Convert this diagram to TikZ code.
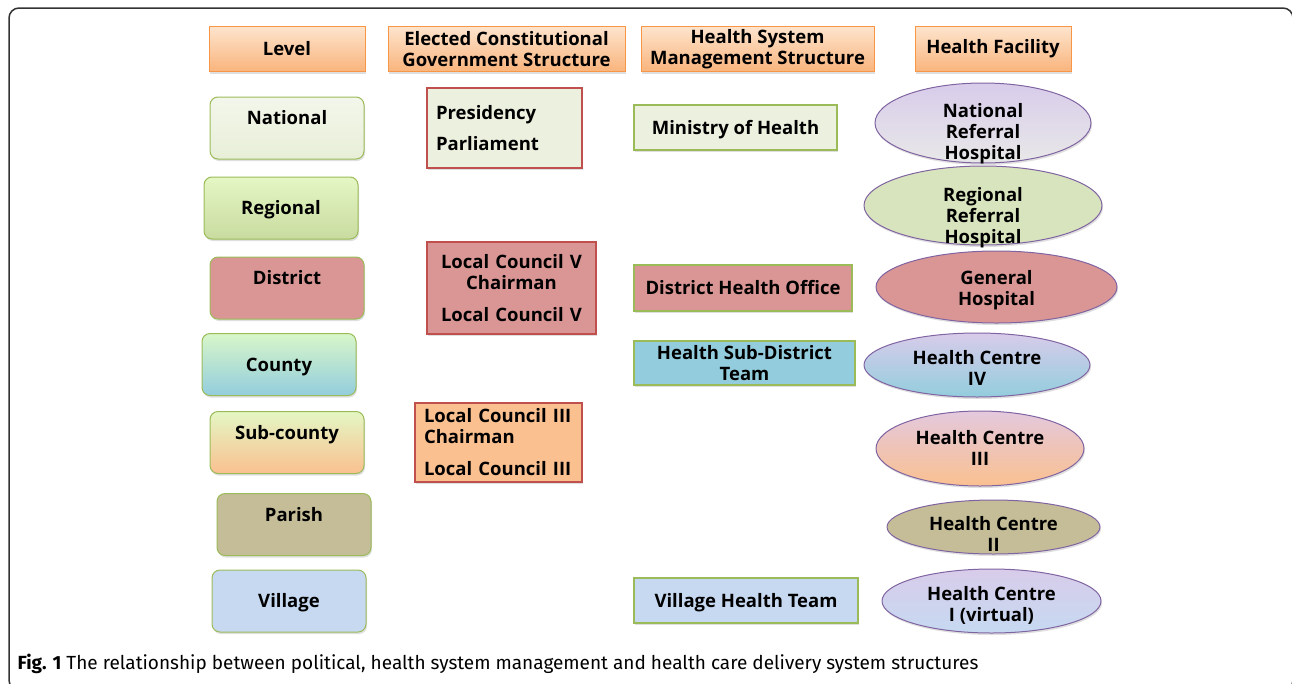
\documentclass[tikz,border=0pt]{standalone}
\usepackage{fontspec}
\setmainfont{Open Sans}
\newfontfamily\capfont{Fira Sans}
\usetikzlibrary{shapes.geometric,shadows}

\definecolor{headline}{HTML}{F79646}
\definecolor{headtop}{HTML}{FDE4CD}
\definecolor{headbot}{HTML}{F9B47C}
\definecolor{lvlline}{HTML}{9BBB59}
\definecolor{govline}{HTML}{C0504D}
\definecolor{facline}{HTML}{8064A2}
\definecolor{palegreen}{HTML}{EBF1DE}
\definecolor{rose}{HTML}{D99694}
\definecolor{aqua}{HTML}{93CDDD}
\definecolor{peach}{HTML}{FAC090}
\definecolor{khaki}{HTML}{C4BD97}
\definecolor{skyblue}{HTML}{C6D9F1}
\definecolor{sage}{HTML}{D7E4BD}
\definecolor{lilac}{HTML}{D8CCEA}
\definecolor{limegreen}{HTML}{E4F7C4}
\definecolor{olivegreen}{HTML}{C9DB9F}
\definecolor{mint}{HTML}{D8F6C9}
\definecolor{mistgray}{HTML}{E8E8E8}
\definecolor{frameline}{HTML}{333333}

\begin{document}
\begin{tikzpicture}[
  x=1pt, y=-1pt,
  font=\fontsize{18.5}{21}\selectfont\bfseries,
  softshadow/.style={drop shadow={shadow xshift=1pt,shadow yshift=-2pt,opacity=.25}},
  head/.style={draw=headline,line width=1pt,top color=headtop,bottom color=headbot,
    minimum height=45pt,align=center,inner sep=0pt,softshadow},
  lvl/.style={draw=lvlline,line width=1pt,rounded corners=8pt,minimum width=154pt,
    inner ysep=0pt,text height=27.5pt,text depth=34.5pt,softshadow},
  lvlmid/.style={lvl,text height=37.5pt,text depth=24.5pt},
  gov/.style={draw=govline,line width=2pt,inner xsep=9pt,inner ysep=0pt,softshadow},
  mgmt/.style={draw=lvlline,line width=2.5pt,inner sep=0pt,align=center,softshadow},
  mgmtone/.style={mgmt,text height=13pt,text depth=0pt},
  fac/.style 2 args={ellipse,draw=facline,line width=1pt,inner xsep=0pt,align=center,
    text height=#1,text depth=0pt,inner ysep=#2,softshadow}
]
  \useasboundingbox (0,0) rectangle (1292,683);
  \draw[frameline,line width=1.5pt,rounded corners=10pt] (9,8) rectangle (1293,690);

  \node[head,minimum width=156pt] (hlevel) at (287,49) {Level};
  \node[head,minimum width=237pt] (hgov) at (506.5,49) {Elected Constitutional\\Government Structure};
  \node[head,minimum width=233pt] (hmgmt) at (757.5,49) {Health System\\Management Structure};
  \node[head,minimum width=156pt] (hfac) at (993,49) {Health Facility};

  \node[lvl,top color=palegreen!60!white,bottom color=palegreen!90!olivegreen] (national) at (287,128) {National};
  \node[lvlmid,top color=limegreen,bottom color=olivegreen] (regional) at (281,208) {Regional};
  \node[lvl,fill=rose] (district) at (287,288) {District};
  \node[lvlmid,top color=mint,bottom color=aqua] (county) at (279,364.5) {County};
  \node[lvl,top color=limegreen,bottom color=peach] (subcounty) at (287,442.5) {Sub-county};
  \node[lvl,fill=khaki] (parish) at (294,524.5) {Parish};
  \node[lvlmid,fill=skyblue] (village) at (289,601) {Village};

  \node[gov,fill=palegreen,text width=137pt,minimum height=80pt,align=left] (pres) at (504.5,128)
    {Presidency\\[10pt]Parliament};
  \node[gov,fill=rose,text width=151pt,minimum height=92pt,align=center] (lcv) at (511.5,288)
    {Local Council V\\Chairman\\[11pt]Local Council V};
  \node[gov,fill=peach,text width=149pt,minimum height=79pt,align=left] (lciii) at (498.5,442.5)
    {Local Council III\\Chairman\\[11pt]Local Council III};

  \node[mgmtone,fill=palegreen,minimum width=203pt,minimum height=45pt] (moh) at (735.5,127.5) {Ministry of Health};
  \node[mgmtone,fill=rose,minimum width=218pt,minimum height=46pt] (dho) at (743,288) {District Health Office};
  \node[mgmt,fill=aqua,minimum width=221pt,minimum height=44pt] (hsd) at (744.5,363) {Health Sub-District\\Team};
  \node[mgmtone,fill=skyblue,minimum width=224pt,minimum height=45pt] (vht) at (746,600.5) {Village Health Team};

  \node[fac={73pt}{-36.5pt},top color=lilac,bottom color=mistgray,minimum width=216pt,minimum height=80pt] (nrh) at (983,123)
    {National\\Referral\\Hospital};
  \node[fac={76pt}{-38pt},fill=sage,minimum width=238pt,minimum height=79pt] (rrh) at (983,205.5)
    {Regional\\Referral\\Hospital};
  \node[fac={37pt}{-18.5pt},fill=rose,minimum width=241pt,minimum height=72pt] (gh) at (996.5,287)
    {General\\Hospital};
  \node[fac={41pt}{-20.5pt},top color=lilac,bottom color=aqua,minimum width=226pt,minimum height=64pt] (hciv) at (977,365)
    {Health Centre\\IV};
  \node[fac={34pt}{-17pt},top color=lilac!70!pink,bottom color=peach,minimum width=208pt,minimum height=75pt] (hciii) at (980,448.5)
    {Health Centre\\III};
  \node[fac={49pt}{-24.5pt},fill=khaki,minimum width=213pt,minimum height=54pt] (hcii) at (993.5,527)
    {Health Centre\\II};
  \node[fac={41pt}{-20.5pt},top color=lilac,bottom color=skyblue,minimum width=219pt,minimum height=64pt] (hci) at (991.5,601)
    {Health Centre\\I (virtual)};

  \node[anchor=base west,font=\capfont\mdseries\fontsize{19}{22}\selectfont] (caption) at (14,669)
    {\textbf{Fig. 1} The relationship between political, health system management and health care delivery system structures};
\end{tikzpicture}
\end{document}
